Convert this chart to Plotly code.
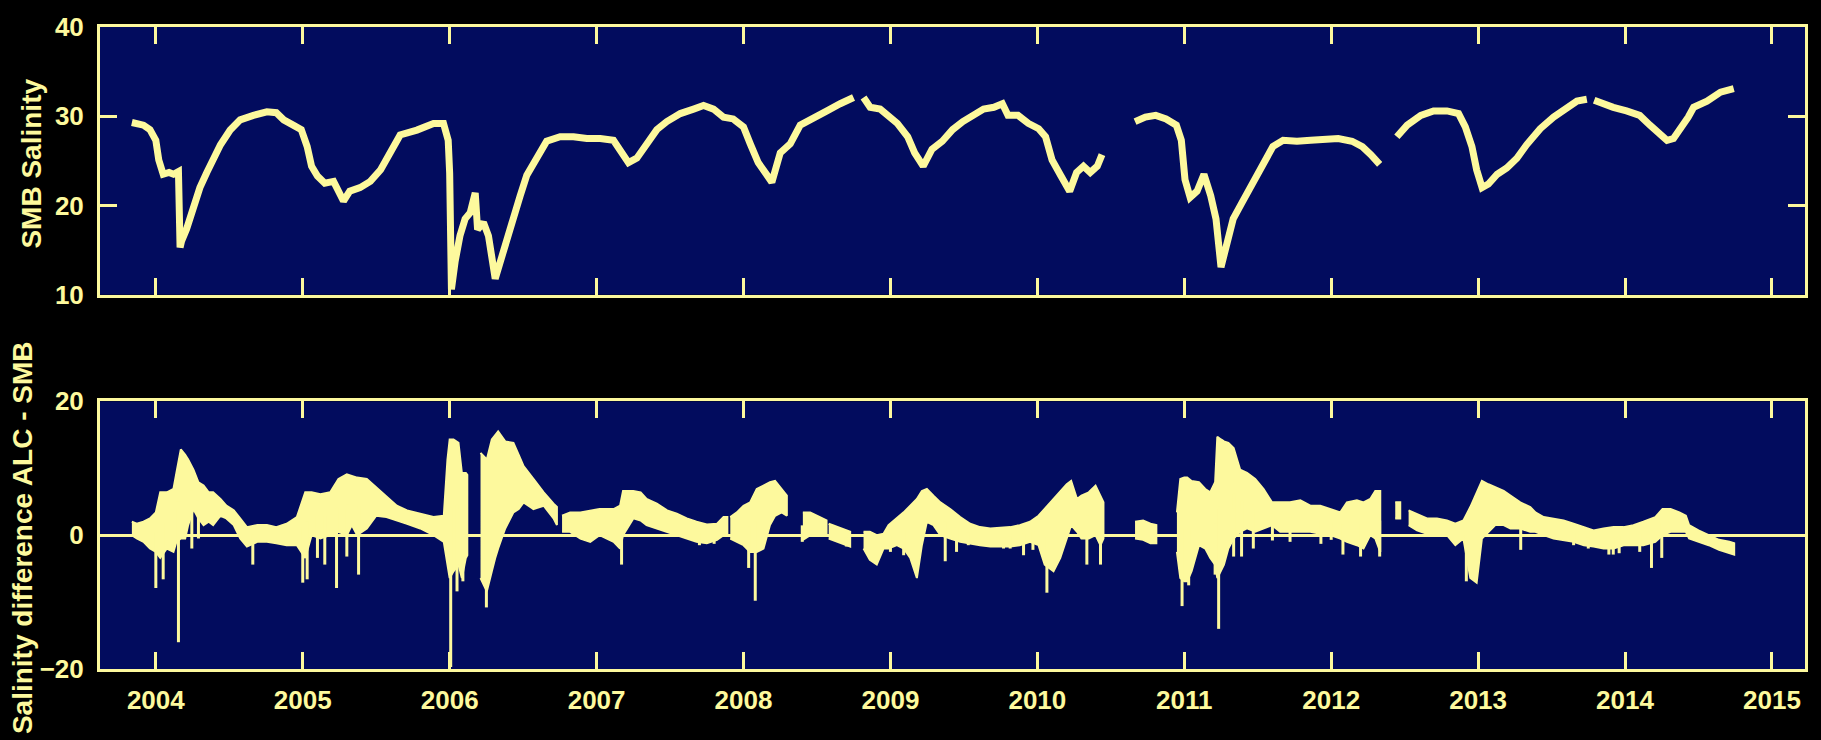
import numpy as np
import plotly.graph_objects as go

# ---------------------------------------------------------------------------
# SMB salinity (decimal year, salinity); None marks a data gap
# ---------------------------------------------------------------------------
smb_year = [
    2003.837, 2003.916, 2003.96, 2004.0, 2004.02, 2004.05, 2004.09, 2004.12, 2004.154,
    2004.165, 2004.175, 2004.21, 2004.256, 2004.30, 2004.347, 2004.39, 2004.44, 2004.506,
    2004.574, 2004.664, 2004.756, 2004.82, 2004.87, 2004.935, 2004.99, 2005.03, 2005.06,
    2005.10, 2005.15, 2005.21, 2005.255, 2005.277, 2005.32, 2005.39, 2005.46, 2005.53,
    2005.595, 2005.663, 2005.777, 2005.89, 2005.958, 2005.99, 2006.0, 2006.005, 2006.012,
    2006.037, 2006.07, 2006.105, 2006.14, 2006.174, 2006.19, 2006.23, 2006.264, 2006.31,
    2006.343, 2006.39, 2006.434, 2006.48, 2006.525, 2006.594, 2006.66, 2006.752, 2006.843,
    2006.934, 2007.025, 2007.115, 2007.17, 2007.217, 2007.274, 2007.342, 2007.41, 2007.478,
    2007.57, 2007.66, 2007.728, 2007.796, 2007.864, 2007.93, 2008.0, 2008.046, 2008.10,
    2008.16, 2008.193, 2008.25, 2008.318, 2008.386, 2008.477, 2008.568, 2008.658, 2008.749,
    None,
    2008.817, 2008.862, 2008.93, 2008.99, 2009.047, 2009.118, 2009.165, 2009.223, 2009.283,
    2009.353, 2009.423, 2009.493, 2009.564, 2009.634, 2009.704, 2009.762, 2009.8, 2009.868,
    2009.938, 2010.009, 2010.056, 2010.1, 2010.161, 2010.22, 2010.267, 2010.314, 2010.36,
    2010.408, 2010.44,
    None,
    2010.665, 2010.735, 2010.806, 2010.876, 2010.946, 2010.98, 2011.005, 2011.04, 2011.087,
    2011.134, 2011.18, 2011.216, 2011.25, 2011.286, 2011.333, 2011.392, 2011.462, 2011.532,
    2011.603, 2011.673, 2011.767, 2011.86, 2011.955, 2012.048, 2012.142, 2012.212, 2012.27,
    2012.33,
    None,
    2012.447, 2012.517, 2012.61, 2012.697, 2012.788, 2012.867, 2012.913, 2012.958, 2012.99,
    2013.027, 2013.07, 2013.13, 2013.195, 2013.264, 2013.33, 2013.378, 2013.423, 2013.514,
    2013.605, 2013.673, 2013.74,
    None,
    2013.79, 2013.832, 2013.92, 2014.01, 2014.1, 2014.17, 2014.24, 2014.286, 2014.33,
    2014.39, 2014.43, 2014.467, 2014.558, 2014.65, 2014.74,
]
smb_salinity = [
    29.3, 29.0, 28.5, 27.3, 25.1, 23.5, 23.7, 23.5, 23.8,
    15.3, 16.0, 17.4, 20.0, 22.0, 23.7, 25.1, 26.8, 28.45,
    29.6, 30.1, 30.5, 30.4, 29.6, 29.0, 28.5, 26.6, 24.4,
    23.3, 22.5, 22.7, 21.1, 20.5, 21.6, 22.0, 22.7, 24.0,
    25.9, 27.9, 28.45, 29.2, 29.2, 27.3, 23.6, 11.0, 10.6,
    13.7, 16.6, 18.5, 19.2, 21.4, 17.3, 18.1, 16.6, 11.8,
    13.7, 16.2, 18.9, 21.1, 23.4, 25.5, 27.2, 27.7, 27.7,
    27.5, 27.5, 27.3, 25.9, 24.8, 25.3, 26.9, 28.5, 29.4,
    30.3, 30.8, 31.2, 30.8, 29.9, 29.7, 28.8, 26.9, 24.8,
    23.4, 22.6, 25.9, 26.9, 29.0, 29.7, 30.6, 31.4, 32.1,
    None,
    32.1, 31.0, 30.8, 29.9, 29.2, 27.7, 25.9, 24.4, 26.3,
    27.2, 28.5, 29.4, 30.1, 30.8, 31.0, 31.4, 30.1, 30.1,
    29.2, 28.6, 27.7, 25.1, 23.3, 21.6, 23.7, 24.4, 23.7,
    24.4, 25.7,
    None,
    29.4, 29.9, 30.1, 29.7, 29.0, 27.3, 22.9, 20.9, 21.6,
    23.5, 21.1, 18.5, 13.1, 15.2, 18.5, 20.3, 22.5, 24.6,
    26.6, 27.3, 27.2, 27.3, 27.5, 27.5, 27.2, 26.6, 25.7,
    24.6,
    None,
    27.7, 29.0, 30.1, 30.6, 30.6, 30.3, 28.8, 26.6, 24.0,
    22.0, 22.4, 23.5, 24.2, 25.3, 26.8, 27.7, 28.6, 29.9,
    30.8, 31.7, 31.9,
    None,
    31.8, 31.5, 31.0, 30.6, 30.1, 29.0, 27.9, 27.3, 27.5,
    28.8, 29.9, 31.0, 31.7, 32.7, 33.1,
]

# ---------------------------------------------------------------------------
# Salinity difference ALC - SMB: envelope of the daily values (high / low)
# ---------------------------------------------------------------------------
diff_year = [
    2003.837, 2003.87, 2003.916, 2003.96, 2004.0, 2004.03, 2004.075, 2004.12, 2004.14,
    2004.17, 2004.2, 2004.22, 2004.256, 2004.29, 2004.325, 2004.36, 2004.39, 2004.44,
    2004.48, 2004.53, 2004.574, 2004.62, 2004.69, 2004.756, 2004.82, 2004.89, 2004.96,
    2005.017, 2005.06, 2005.12, 2005.187, 2005.243, 2005.3, 2005.334, 2005.37, 2005.436,
    2005.5, 2005.57, 2005.64, 2005.71, 2005.8, 2005.89, 2005.96, 2005.985, 2006.0,
    2006.026, 2006.06, 2006.083, 2006.11, 2006.12,
    None,
    2006.21, 2006.253, 2006.287, 2006.31, 2006.33, 2006.378, 2006.434, 2006.47, 2006.503,
    2006.57, 2006.64, 2006.707, 2006.73,
    None,
    2006.765, 2006.82, 2006.89, 2006.957, 2007.02, 2007.116, 2007.16, 2007.18, 2007.25,
    2007.3, 2007.34, 2007.41, 2007.48, 2007.546, 2007.614, 2007.68, 2007.75, 2007.82,
    2007.864, 2007.89,
    None,
    2007.91, 2007.955, 2008.0, 2008.045, 2008.09, 2008.136, 2008.18, 2008.215, 2008.26,
    2008.295,
    None,
    2008.404, 2008.454, 2008.52, 2008.565,
    None,
    2008.58, 2008.67, 2008.726,
    None,
    2008.817, 2008.86, 2008.907, 2008.953, 2008.987, 2009.044, 2009.09, 2009.135, 2009.18,
    2009.214, 2009.248, 2009.293, 2009.34, 2009.407, 2009.475, 2009.543, 2009.61, 2009.68,
    2009.747, 2009.815, 2009.88, 2009.95, 2010.008, 2010.05, 2010.11, 2010.156, 2010.2,
    2010.23, 2010.27, 2010.3, 2010.35, 2010.396, 2010.43, 2010.45,
    None,
    2010.665, 2010.72, 2010.77, 2010.81,
    None,
    2010.95, 2010.973, 2011.0, 2011.02, 2011.05, 2011.1, 2011.143, 2011.177, 2011.21,
    2011.225, 2011.25, 2011.27, 2011.3, 2011.336, 2011.38, 2011.427, 2011.483, 2011.54,
    2011.597, 2011.653, 2011.72, 2011.79, 2011.858, 2011.926, 2011.994, 2012.062, 2012.107,
    2012.175, 2012.22, 2012.266, 2012.3, 2012.334,
    None,
    2012.436, 2012.47,
    None,
    2012.527, 2012.584, 2012.652, 2012.72, 2012.788, 2012.845, 2012.9, 2012.947, 2012.99,
    2013.026, 2013.07, 2013.117, 2013.174, 2013.22, 2013.287, 2013.355, 2013.39, 2013.446,
    2013.514, 2013.582, 2013.65, 2013.72, 2013.786, 2013.854, 2013.922, 2013.99, 2014.057,
    2014.125, 2014.206, 2014.255, 2014.31, 2014.37, 2014.414, 2014.436, 2014.5, 2014.57,
    2014.64, 2014.71, 2014.743,
]
diff_high = [
    2.0, 1.7, 2.0, 2.5, 3.4, 6.4, 6.4, 6.9, 9.3,
    12.8, 12.0, 11.3, 9.8, 7.9, 7.4, 6.4, 6.4, 5.4,
    4.4, 3.7, 2.5, 1.2, 1.5, 1.5, 1.2, 1.7, 2.7,
    6.4, 6.4, 6.1, 6.4, 8.4, 9.1, 8.85, 8.6, 8.4,
    7.1, 5.7, 4.4, 3.7, 3.2, 2.7, 2.9, 11.3, 14.3,
    14.3, 13.8, 9.3, 9.3, 9.0,
    None,
    12.3, 11.3, 14.3, 15.0, 15.5, 14.0, 13.8, 12.0, 10.3,
    8.4, 6.4, 4.7, 4.2,
    None,
    2.9, 3.4, 3.4, 3.7, 3.9, 3.9, 4.4, 6.6, 6.6,
    6.4, 5.4, 4.7, 3.7, 3.2, 2.5, 2.0, 1.6, 1.7,
    2.7, 2.7,
    None,
    2.7, 3.4, 4.4, 4.9, 6.9, 7.4, 7.9, 8.1, 6.9,
    5.9,
    None,
    3.4, 3.4, 2.7, 2.2,
    None,
    1.7, 1.0, 0.5,
    None,
    0.5, 0.5, 0.0, 0.2, 1.5, 2.5, 3.4, 4.4, 5.4,
    6.6, 6.9, 5.9, 4.9, 3.9, 2.7, 1.7, 1.2, 1.0,
    1.1, 1.2, 1.5, 2.0, 2.9, 3.9, 5.4, 6.4, 7.6,
    8.1, 5.4, 5.9, 6.4, 7.4, 5.9, 4.9,
    None,
    2.0, 2.2, 1.7, 1.5,
    None,
    3.4, 8.4, 8.6, 8.6, 8.1, 7.9, 6.9, 6.4, 7.9,
    14.7, 14.3, 14.0, 13.8, 13.0, 9.8, 9.3, 8.4, 6.9,
    4.9, 4.9, 4.9, 5.2, 4.4, 4.4, 3.9, 3.4, 4.9,
    5.2, 4.9, 5.4, 6.6, 6.6,
    None,
    4.9, 4.9,
    None,
    3.7, 3.2, 2.5, 2.5, 2.2, 1.7, 2.2, 4.2, 6.4,
    8.1, 7.6, 7.1, 6.6, 5.9, 4.9, 4.2, 3.4, 2.7,
    2.5, 2.2, 1.7, 1.2, 0.7, 1.0, 1.2, 1.2, 1.5,
    2.0, 2.7, 3.9, 3.9, 3.4, 2.9, 1.5, 0.7, 0.0,
    -0.7, -1.0, -1.2,
]
diff_low = [
    0.0, -0.5, -1.0, -2.0, -2.5, -3.4, -2.0, -2.5, -1.0,
    -0.5, -0.5, 1.5, 3.9, 2.5, 1.5, 2.0, 1.5, 2.9,
    2.5, 1.5, -0.5, -1.7, -1.0, -1.0, -1.2, -1.5, -1.5,
    -3.4, 0.0, -0.5, 0.0, 0.5, 0.0, 1.5, 0.0, 1.0,
    2.9, 2.7, 2.2, 1.7, 1.0, 0.0, -1.0, -4.4, -6.4,
    -5.4, -4.4, -6.4, -3.4, -3.0,
    None,
    -6.4, -8.4, -5.4, -3.4, -2.0, 1.0, 3.4, 3.9, 4.9,
    3.9, 4.4, 2.5, 1.5,
    None,
    0.5, 0.5, -0.5, -1.0, 0.0, -1.0, -2.0, 0.0, 2.5,
    2.2, 1.5, 1.0, 0.5, 0.0, -0.5, -1.0, -1.2, -0.7,
    0.0, 0.0,
    None,
    -0.5, -1.0, -1.5, -2.5, -2.5, -2.0, 1.5, 2.9, 3.4,
    2.9,
    None,
    -0.7, 0.0, 0.0, 0.2,
    None,
    -0.5, -1.2, -1.7,
    None,
    -2.0, -3.7, -4.4, -2.0, -2.0, -1.5, -2.0, -3.4, -6.4,
    -1.5, 2.0, 1.5, 0.0, -0.5, -1.0, -1.2, -1.5, -1.7,
    -1.7, -1.7, -1.5, -1.0, -1.5, -4.4, -5.4, -3.4, -0.5,
    1.5, 0.5, -0.5, -0.5, 0.0, -1.5, -0.5,
    None,
    -0.5, -0.7, -1.2, -1.2,
    None,
    -2.5, -6.4, -6.9, -6.9, -5.4, -1.5, -2.0, -3.4, -4.4,
    -6.4, -5.4, -4.4, -2.0, -0.5, 0.5, 1.0, 0.5, 1.0,
    1.5, 0.5, 0.5, 0.5, 0.5, 0.2, 0.0, -0.5, -1.0,
    -1.5, -2.0, 0.0, -0.5, -2.5,
    None,
    2.5, 2.5,
    None,
    1.5, 0.7, 0.2, 0.2, 0.0, -1.5, -0.5, -6.4, -7.1,
    -0.5, 0.5, 1.5, 1.5, 1.0, 1.0, 0.5, 0.5, 0.0,
    -0.5, -0.7, -1.0, -1.5, -1.7, -2.0, -2.0, -1.5, -1.5,
    -1.5, -1.0, 0.0, 0.5, 0.5, 0.5, -0.5, -1.0, -1.5,
    -2.2, -2.7, -2.9,
]

# Short isolated excursions of the difference series (decimal year, value)
spike_year = [
    2004.0, 2004.05, 2004.154, 2004.245, 2004.29, 2004.66, 2005.0, 2005.03, 2005.1,
    2005.15, 2005.23, 2005.3, 2005.38, 2006.007, 2006.05, 2006.09, 2006.25, 2007.17,
    2007.7, 2007.8, 2008.035, 2008.08, 2008.4, 2008.7, 2009.0, 2009.09, 2009.373,
    2009.45, 2009.53, 2009.77, 2009.815, 2009.906, 2009.97, 2010.065, 2010.337, 2010.43,
    2010.985, 2011.03, 2011.21, 2011.234, 2011.336, 2011.39, 2011.47, 2011.6, 2011.72,
    2011.93, 2012.0, 2012.08, 2012.2, 2012.33, 2012.92, 2013.29, 2013.65, 2013.75,
    2013.89, 2013.92, 2013.96, 2014.1, 2014.18, 2014.25,
]
spike_value = [
    -7.9, -6.6, -16.0, -2.0, -0.5, -4.4, -7.1, -6.6, -3.4,
    -4.4, -7.9, -3.2, -5.9, -19.7, -8.4, -6.9, -10.8, -4.4,
    -1.5, -1.3, -4.9, -9.8, -1.0, -1.7, -2.5, -3.0, -3.9,
    -2.5, -1.5, -2.0, -2.0, -3.0, -2.2, -8.6, -4.4, -4.4,
    -10.6, -7.5, -5.9, -14.0, -3.2, -3.2, -2.0, -0.8, -1.0,
    -1.3, -0.7, -2.9, -3.2, -3.2, -6.9, -2.2, -1.5, -2.0,
    -2.9, -2.9, -2.7, -2.5, -4.9, -3.4,
]

year_ticks = list(range(2004, 2016))
smb_ticks = [10, 20, 30, 40]
diff_ticks = [-20, 0, 20]

YELLOW = "#fdf99d"
NAVY = "#020c5e"
FONT = "Liberation Sans"


def segments(xs, *cols):
    """Split parallel lists at None markers into contiguous runs."""
    run = [[] for _ in range(len(cols) + 1)]
    for row in zip(xs, *cols):
        if row[0] is None:
            if run[0]:
                yield run
            run = [[] for _ in range(len(cols) + 1)]
        else:
            for store, v in zip(run, row):
                store.append(v)
    if run[0]:
        yield run


# Envelope polygons, one closed ring per contiguous run
poly_x, poly_y = [], []
mid_x, mid_y = [], []
for t, hi, lo in segments(diff_year, diff_high, diff_low):
    poly_x += t + t[::-1] + [None]
    poly_y += hi + lo[::-1] + [None]
    mid_x += t
    mid_y += [(a + b) / 2 for a, b in zip(hi, lo)]

# Spikes drawn as vertical strokes from the envelope to their extreme value
order = np.argsort(mid_x)
mx = np.array(mid_x)[order]
my = np.array(mid_y)[order]
spike_x, spike_y = [], []
for t, v in zip(spike_year, spike_value):
    base = float(np.interp(t, mx, my))
    spike_x += [t, t, None]
    spike_y += [base, v, None]

fig = go.Figure()

fig.add_trace(go.Scatter(
    x=smb_year, y=smb_salinity, mode="lines", connectgaps=False,
    line=dict(color=YELLOW, width=7), xaxis="x", yaxis="y", hoverinfo="skip",
))
fig.add_trace(go.Scatter(
    x=poly_x, y=poly_y, mode="lines", fill="toself", fillcolor=YELLOW,
    line=dict(color=YELLOW, width=2), xaxis="x2", yaxis="y2", hoverinfo="skip",
))
fig.add_trace(go.Scatter(
    x=spike_x, y=spike_y, mode="lines",
    line=dict(color=YELLOW, width=3), xaxis="x2", yaxis="y2", hoverinfo="skip",
))

tickfont = dict(family=FONT, size=26, color=YELLOW, weight="bold")
common_axis = dict(
    showline=True, linecolor=YELLOW, linewidth=3, mirror="allticks",
    ticks="inside", ticklen=17, tickwidth=3, tickcolor=YELLOW,
    showgrid=False, tickfont=tickfont, fixedrange=True,
)
x_range = [2003.62, 2015.225]

fig.update_layout(
    width=1821, height=740,
    margin=dict(l=100, r=16, t=19, b=71),
    paper_bgcolor="black", plot_bgcolor=NAVY,
    showlegend=False,
    xaxis=dict(domain=[0, 1], anchor="y", range=x_range, tickvals=year_ticks,
               showticklabels=False, zeroline=False, **common_axis),
    yaxis=dict(domain=[0.583, 1.0], anchor="x", range=[10, 40], tickvals=smb_ticks,
               zeroline=False, ticklabelstandoff=8, **common_axis),
    xaxis2=dict(domain=[0, 1], anchor="y2", range=x_range, tickvals=year_ticks,
                ticktext=[str(y) for y in year_ticks], zeroline=False,
                ticklabelstandoff=6, **common_axis),
    yaxis2=dict(domain=[0.0, 0.417], anchor="x2", range=[-20, 20], tickvals=diff_ticks,
                zeroline=True, zerolinecolor=YELLOW, zerolinewidth=3,
                ticklabelstandoff=8, **common_axis),
    annotations=[
        dict(text="SMB Salinity", xref="paper", yref="paper", x=-0.0402, y=0.788,
             xanchor="center", yanchor="middle", textangle=-90, showarrow=False,
             font=dict(family=FONT, size=28, color=YELLOW, weight="bold")),
        dict(text="Salinity difference ALC - SMB", xref="paper", yref="paper",
             x=-0.0455, y=0.2046, xanchor="center", yanchor="middle", textangle=-90,
             showarrow=False,
             font=dict(family=FONT, size=28, color=YELLOW, weight="bold")),
    ],
)

fig.write_html("out.html")
